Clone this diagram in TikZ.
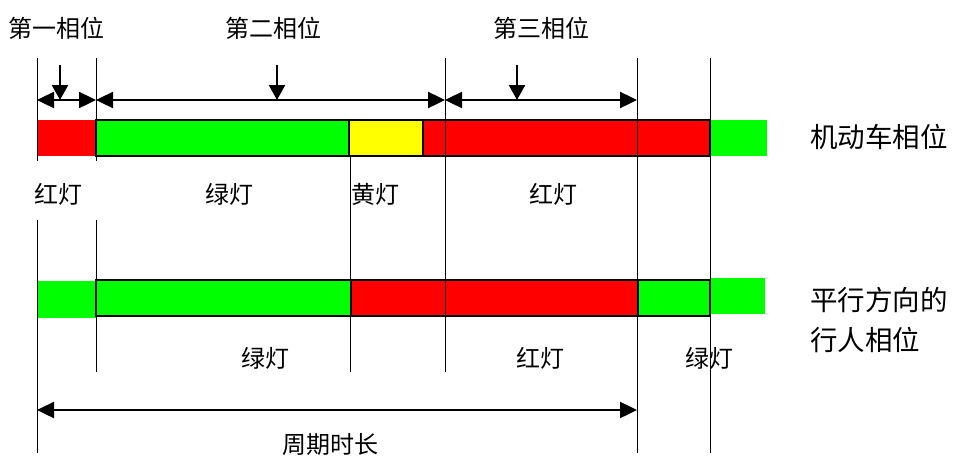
\documentclass[tikz,border=0pt]{standalone}
\usepackage{fontspec}
\newfontfamily\cjk{Noto Sans CJK SC}
\usetikzlibrary{arrows.meta,
                positioning}

\definecolor{sigred}{RGB}{255,0,0}
\definecolor{siggreen}{RGB}{0,255,0}
\definecolor{sigyellow}{RGB}{255,255,0}

\tikzset{
    lbl/.style={font=\cjk\fontsize{24}{26}\selectfont, inner sep=0pt},
    side/.style={font=\cjk\fontsize{27.5}{40}\selectfont, inner sep=0pt, align=left, anchor=west},
    tick/.style={line width=0.6pt},
    bar/.style={draw=black, line width=1.8pt},
    span/.style={line width=2.4pt, {Triangle[length=17pt,width=16pt]}-{Triangle[length=17pt,width=16pt]}},
    down/.style={line width=2.4pt, -{Triangle[length=15pt,width=16pt]}}
}

\begin{document}
\begin{tikzpicture}[x=1pt, y=-1pt]
    \useasboundingbox (0,0) rectangle (955,461);

    % vehicle phase
    \fill[sigred] (37,120) rectangle (96,156);
    \draw[bar, fill=siggreen] (96,120) rectangle (349,156);
    \draw[bar, fill=sigyellow] (349,120) rectangle (423,156);
    \draw[bar, fill=sigred] (423,120) rectangle (710,156);
    \fill[siggreen] (710,120) rectangle (767,156);

    % pedestrian phase
    \fill[siggreen] (37,281) rectangle (96,318);
    \draw[bar, fill=siggreen] (96,280) rectangle (351,316);
    \draw[bar, fill=sigred] (351,280) rectangle (638,316);
    \draw[bar, fill=siggreen] (638,280) rectangle (710,316);
    \fill[siggreen] (710,278) rectangle (765,314);

    % time lines
    \draw[tick] (37,58) -- (37,161);
    \draw[tick] (37,220) -- (37,453);
    \draw[tick] (96,58) -- (96,161);
    \draw[tick] (96,220) -- (96,372);
    \draw[tick] (350,156) -- (350,372);
    \draw[tick] (445,58) -- (445,372);
    \draw[tick] (637,58) -- (637,453);
    \draw[tick] (710,58) -- (710,453);

    \coordinate (p0) at (37,100);
    \coordinate (p1) at (96,100);
    \coordinate (p2) at (445,100);
    \coordinate (p3) at (637,100);
    \coordinate (c0) at (37,410);
    \coordinate (c1) at (637,410);

    \draw[span] (p0) -- (p1);
    \draw[span] (p1) -- (p2);
    \draw[span] (p2) -- (p3);
    \draw[span] (c0) -- (c1);

    \coordinate (d1) at (60,65);
    \coordinate (d2) at (277,65);
    \coordinate (d3) at (517,65);
    \draw[down] (d1) -- (d1 |- p0);
    \draw[down] (d2) -- (d2 |- p0);
    \draw[down] (d3) -- (d3 |- p0);

    \node[lbl] (ph1) at (57,28) {第一相位};
    \node[lbl] (ph2) at (273,28) {第二相位};
    \node[lbl] (ph3) at (541,28) {第三相位};

    \node[lbl] (vr1) at (58,194) {红灯};
    \node[lbl] (vg) at (229,194) {绿灯};
    \node[lbl] (vy) at (375,194) {黄灯};
    \node[lbl] (vr2) at (553,194) {红灯};

    \node[lbl] (pg1) at (265,358) {绿灯};
    \node[lbl] (pr) at (540,358) {红灯};
    \node[lbl] (pg2) at (709,358) {绿灯};

    \node[lbl] (cyc) at (330,445) {周期时长};

    \node[side] (veh) at (810,137) {机动车相位};
    \node[side] (ped) at (810,320) {平行方向的\\行人相位};
\end{tikzpicture}
\end{document}
